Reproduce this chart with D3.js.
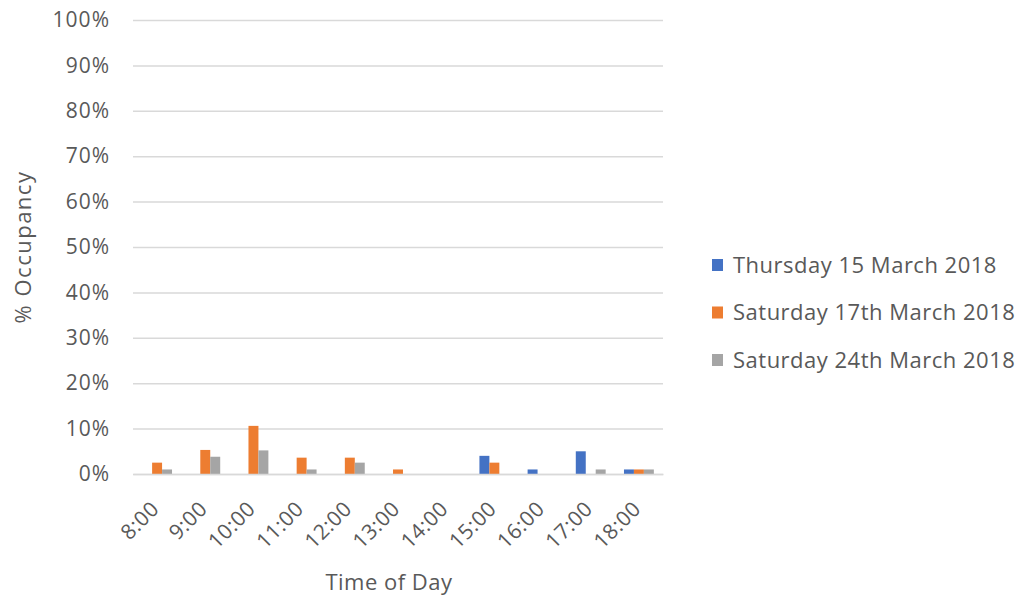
<!DOCTYPE html>
<html>
<head>
<meta charset="utf-8">
<script src="https://cdn.jsdelivr.net/npm/d3@7"></script>
<style>
  body { margin: 0; background: #fff; }
  text { font-family: "Open Sans", Lato, sans-serif; }
</style>
</head>
<body>
<div id="chart"></div>
<script>
// Occupancy by time of day, three survey days
const hours = ["8:00","9:00","10:00","11:00","12:00","13:00","14:00","15:00","16:00","17:00","18:00"];
const seriesNames = ["Thursday 15 March 2018","Saturday 17th March 2018","Saturday 24th March 2018"];
const thu15 = [0, 0, 0, 0, 0, 0, 0, 4, 1, 5, 1];
const sat17 = [2.5, 5.3, 10.6, 3.6, 3.6, 1, 0, 2.5, 0, 0, 1];
const sat24 = [1, 3.8, 5.2, 1, 2.5, 0, 0, 0, 0, 1, 1];
const yTicks = [0,10,20,30,40,50,60,70,80,90,100];
const colors = ["#4472C4","#ED7D31","#A5A5A5"];

const width = 1028, height = 600;
const margin = { top: 20, right: 365, bottom: 126, left: 133 };
const innerW = width - margin.left - margin.right;
const innerH = height - margin.top - margin.bottom;

const svg = d3.select("#chart").append("svg")
    .attr("width", width).attr("height", height);
const g = svg.append("g").attr("transform", `translate(${margin.left},${margin.top})`);

const x = d3.scaleBand().domain(hours).range([0, innerW]).paddingInner(0.38).paddingOuter(0.19);
const xInner = d3.scaleBand().domain(seriesNames).range([0, x.bandwidth()]);
const y = d3.scaleLinear().domain([0, 100]).range([innerH, 0]);

// Gridlines
g.append("g").attr("class", "grid")
    .call(d3.axisLeft(y).tickValues(yTicks).tickSize(-innerW).tickFormat(""))
    .call(a => a.select(".domain").remove())
    .selectAll("line").style("stroke", "#d9d9d9").style("stroke-width", 1.5);

// Y labels
g.append("g")
    .call(d3.axisLeft(y).tickValues(yTicks).tickSize(0).tickPadding(23).tickFormat(d => d + "%"))
    .call(a => a.select(".domain").remove())
    .selectAll("text").style("font-size", "21px").style("letter-spacing", "1px").style("fill", "#595959");

// Bars
const rows = hours.map((h, i) => ({ hour: h, vals: [thu15[i], sat17[i], sat24[i]] }));
const groups = g.selectAll("g.cat").data(rows).join("g").attr("class", "cat")
    .attr("transform", d => `translate(${x(d.hour)},0)`);
groups.selectAll("rect").data(d => d.vals.map((v, j) => ({ name: seriesNames[j], v, j })))
    .join("rect")
    .attr("x", d => xInner(d.name))
    .attr("width", xInner.bandwidth())
    .attr("y", d => y(d.v))
    .attr("height", d => innerH - y(d.v))
    .attr("fill", d => colors[d.j]);

// X axis
const xAxis = g.append("g").attr("transform", `translate(0,${innerH})`)
    .call(d3.axisBottom(x).tickSize(0));
xAxis.select(".domain").style("stroke", "#d9d9d9").style("stroke-width", 1.5);
xAxis.selectAll("text")
    .style("font-size", "21px").style("letter-spacing", "0.5px").style("fill", "#595959")
    .attr("text-anchor", "end")
    .attr("y", 0).attr("dy", "0.35em")
    .attr("transform", "translate(-2,31) rotate(-45)");

// Axis titles
g.append("text").attr("x", 389 - margin.left).attr("y", innerH + 116)
    .attr("text-anchor", "middle").style("font-size", "22px").style("letter-spacing", "0.5px")
    .style("fill", "#595959")
    .text("Time of Day");
g.append("text").attr("transform", "rotate(-90)")
    .attr("x", -(247 - margin.top)).attr("y", 31 - margin.left)
    .attr("text-anchor", "middle").style("font-size", "22px").style("letter-spacing", "1.5px")
    .style("fill", "#595959")
    .text("% Occupancy");

// Legend
const legend = svg.append("g").attr("transform", "translate(712,265)");
seriesNames.forEach((name, i) => {
    const row = legend.append("g").attr("transform", `translate(0,${i * 47.5})`);
    row.append("rect").attr("x", 0).attr("y", -6).attr("width", 11).attr("height", 12).attr("fill", colors[i]);
    row.append("text").attr("x", 21).attr("y", 0).attr("dy", "0.35em")
        .style("font-size", "22px").style("letter-spacing", "0.5px")
        .style("fill", "#595959").text(name);
});
</script>
</body>
</html>
